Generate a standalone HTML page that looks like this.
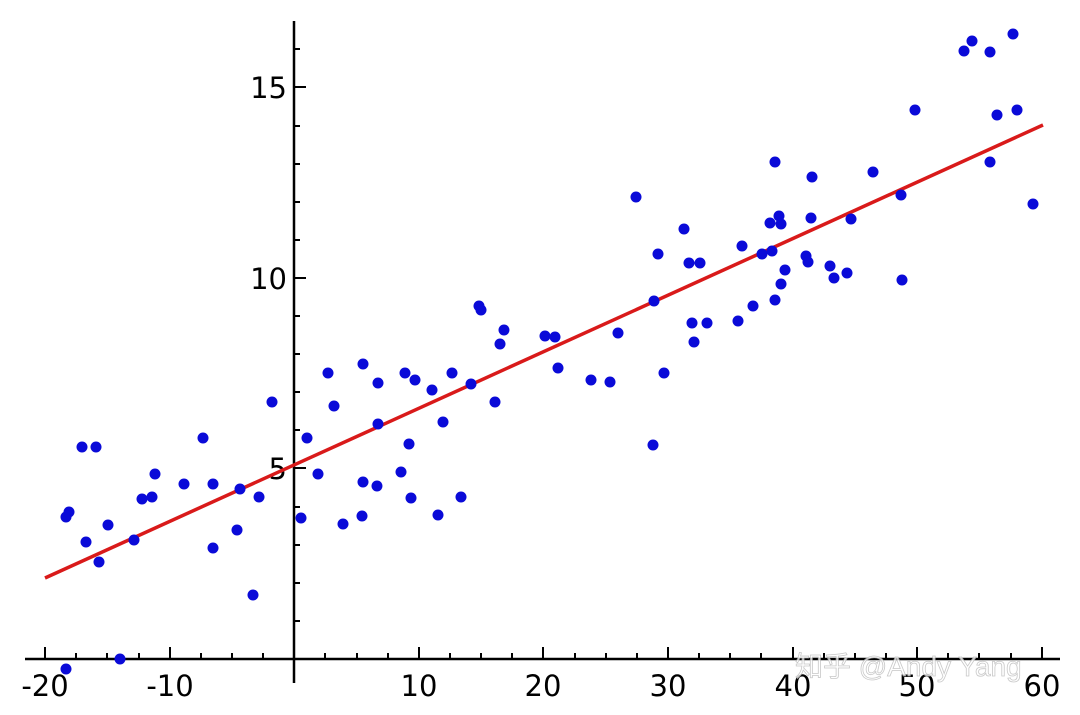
<!DOCTYPE html>
<html><head><meta charset="utf-8"><style>
html,body{margin:0;padding:0;background:#fff;width:1080px;height:715px;overflow:hidden}
text{font-family:"DejaVu Sans","Liberation Sans",sans-serif}
</style></head><body>
<svg width="1080" height="715" viewBox="0 0 1080 715">
<rect width="1080" height="715" fill="#fff"/>
<g stroke="#000" stroke-width="2.5" fill="none">
<line x1="25" y1="659" x2="1060" y2="659"/>
<line x1="294" y1="21" x2="294" y2="683"/>
</g>
<path stroke="#000" stroke-width="2" fill="none" d="
M45 659v-12 M76 659v-6 M107 659v-6 M139 659v-6 M170 659v-12 M201 659v-6 M232 659v-6 M263 659v-6
M325 659v-6 M357 659v-6 M388 659v-6 M419 659v-12 M450 659v-6 M481 659v-6 M512 659v-6 M543 659v-12
M575 659v-6 M606 659v-6 M637 659v-6 M668 659v-12 M699 659v-6 M730 659v-6 M761 659v-6 M793 659v-12
M824 659v-6 M855 659v-6 M886 659v-6 M917 659v-12 M948 659v-6 M979 659v-6 M1011 659v-6 M1042 659v-12
M294 621h6 M294 583h6 M294 545h6 M294 507h6 M294 468h12 M294 430h6 M294 392h6 M294 354h6 M294 316h6
M294 278h12 M294 240h6 M294 202h6 M294 164h6 M294 126h6 M294 87h12 M294 49h6"/>
<g font-size="29" fill="#000" text-anchor="middle">
<text x="45" y="696">-20</text><text x="170" y="696">-10</text><text x="419" y="696">10</text>
<text x="543" y="696">20</text><text x="668" y="696">30</text><text x="793" y="696">40</text>
<text x="917" y="696">50</text><text x="1042" y="696">60</text>
</g>
<g font-size="29" fill="#000" text-anchor="end">
<text x="287" y="98">15</text><text x="287" y="289">10</text><text x="287" y="479">5</text>
</g>
<line x1="45" y1="578" x2="1043" y2="125" stroke="#d91a1a" stroke-width="3.5"/>
<g fill="#0a0ad8">
<circle cx="66" cy="517" r="5.5"/><circle cx="69" cy="512" r="5.5"/><circle cx="82" cy="447" r="5.5"/><circle cx="96" cy="447" r="5.5"/>
<circle cx="86" cy="542" r="5.5"/><circle cx="99" cy="562" r="5.5"/><circle cx="108" cy="525" r="5.5"/><circle cx="120" cy="659" r="5.5"/>
<circle cx="66" cy="669" r="5.5"/><circle cx="134" cy="540" r="5.5"/><circle cx="142" cy="499" r="5.5"/><circle cx="152" cy="497" r="5.5"/>
<circle cx="155" cy="474" r="5.5"/><circle cx="184" cy="484" r="5.5"/><circle cx="203" cy="438" r="5.5"/><circle cx="213" cy="484" r="5.5"/>
<circle cx="213" cy="548" r="5.5"/><circle cx="237" cy="530" r="5.5"/><circle cx="240" cy="489" r="5.5"/><circle cx="253" cy="595" r="5.5"/>
<circle cx="259" cy="497" r="5.5"/><circle cx="272" cy="402" r="5.5"/><circle cx="301" cy="518" r="5.5"/><circle cx="307" cy="438" r="5.5"/>
<circle cx="318" cy="474" r="5.5"/><circle cx="328" cy="373" r="5.5"/><circle cx="334" cy="406" r="5.5"/><circle cx="343" cy="524" r="5.5"/>
<circle cx="362" cy="516" r="5.5"/><circle cx="363" cy="482" r="5.5"/><circle cx="363" cy="364" r="5.5"/><circle cx="377" cy="486" r="5.5"/>
<circle cx="378" cy="383" r="5.5"/><circle cx="378" cy="424" r="5.5"/><circle cx="401" cy="472" r="5.5"/><circle cx="405" cy="373" r="5.5"/>
<circle cx="409" cy="444" r="5.5"/><circle cx="411" cy="498" r="5.5"/><circle cx="415" cy="380" r="5.5"/><circle cx="432" cy="390" r="5.5"/>
<circle cx="438" cy="515" r="5.5"/><circle cx="443" cy="422" r="5.5"/><circle cx="452" cy="373" r="5.5"/><circle cx="461" cy="497" r="5.5"/>
<circle cx="471" cy="384" r="5.5"/><circle cx="479" cy="306" r="5.5"/><circle cx="481" cy="310" r="5.5"/><circle cx="495" cy="402" r="5.5"/>
<circle cx="500" cy="344" r="5.5"/><circle cx="504" cy="330" r="5.5"/><circle cx="545" cy="336" r="5.5"/><circle cx="555" cy="337" r="5.5"/>
<circle cx="558" cy="368" r="5.5"/><circle cx="591" cy="380" r="5.5"/><circle cx="610" cy="382" r="5.5"/><circle cx="618" cy="333" r="5.5"/>
<circle cx="636" cy="197" r="5.5"/><circle cx="653" cy="445" r="5.5"/><circle cx="654" cy="301" r="5.5"/><circle cx="658" cy="254" r="5.5"/>
<circle cx="664" cy="373" r="5.5"/><circle cx="684" cy="229" r="5.5"/><circle cx="689" cy="263" r="5.5"/><circle cx="692" cy="323" r="5.5"/>
<circle cx="694" cy="342" r="5.5"/><circle cx="700" cy="263" r="5.5"/><circle cx="707" cy="323" r="5.5"/><circle cx="738" cy="321" r="5.5"/>
<circle cx="742" cy="246" r="5.5"/><circle cx="753" cy="306" r="5.5"/><circle cx="762" cy="254" r="5.5"/><circle cx="770" cy="223" r="5.5"/>
<circle cx="772" cy="251" r="5.5"/><circle cx="775" cy="162" r="5.5"/><circle cx="775" cy="300" r="5.5"/><circle cx="779" cy="216" r="5.5"/>
<circle cx="781" cy="284" r="5.5"/><circle cx="781" cy="224" r="5.5"/><circle cx="785" cy="270" r="5.5"/><circle cx="811" cy="218" r="5.5"/>
<circle cx="806" cy="256" r="5.5"/><circle cx="808" cy="262" r="5.5"/><circle cx="812" cy="177" r="5.5"/><circle cx="830" cy="266" r="5.5"/>
<circle cx="834" cy="278" r="5.5"/><circle cx="847" cy="273" r="5.5"/><circle cx="851" cy="219" r="5.5"/><circle cx="873" cy="172" r="5.5"/>
<circle cx="901" cy="195" r="5.5"/><circle cx="902" cy="280" r="5.5"/><circle cx="915" cy="110" r="5.5"/><circle cx="964" cy="51" r="5.5"/>
<circle cx="972" cy="41" r="5.5"/><circle cx="990" cy="52" r="5.5"/><circle cx="990" cy="162" r="5.5"/><circle cx="997" cy="115" r="5.5"/>
<circle cx="1013" cy="34" r="5.5"/><circle cx="1017" cy="110" r="5.5"/><circle cx="1033" cy="204" r="5.5"/>
</g>
<text x="795" y="676" font-size="28" fill="#fff" stroke="#bbb" stroke-width="0.8" opacity="0.8" style='font-family:"Liberation Sans","Noto Sans CJK SC",sans-serif'>知乎 @Andy Yang</text>
</svg>
</body></html>
